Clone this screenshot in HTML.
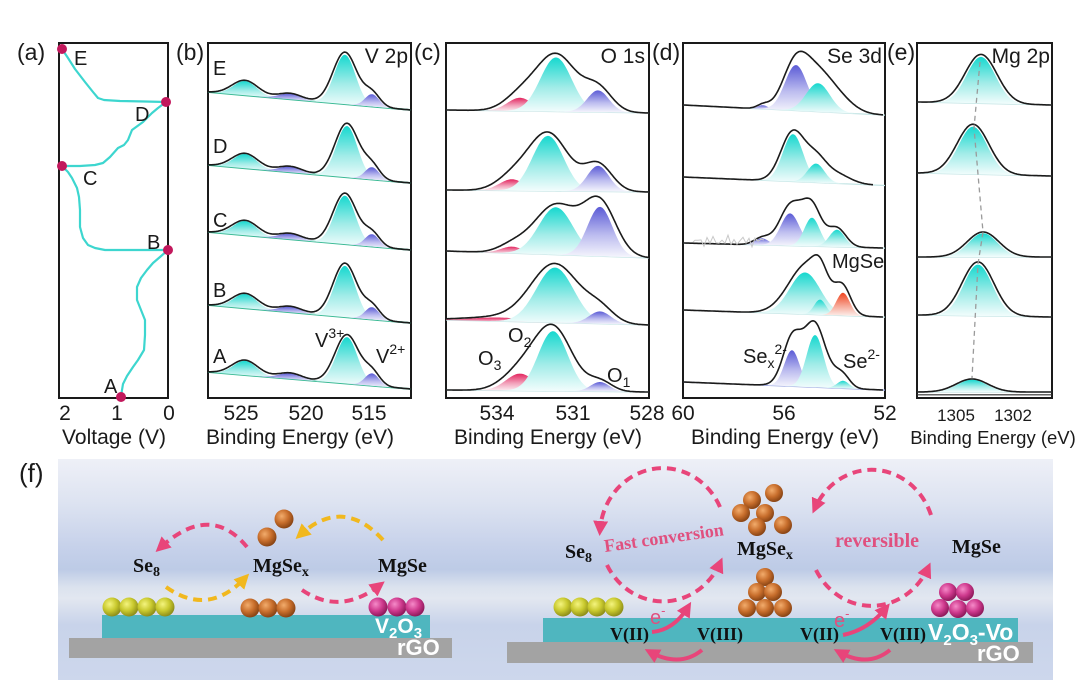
<!DOCTYPE html>
<html><head><meta charset="utf-8">
<style>
html,body{margin:0;padding:0;background:#fff;}
svg{display:block;}
.sans{font-family:"Liberation Sans",Arial,sans-serif;}
.serif{font-family:"Liberation Serif","Times New Roman",serif;font-weight:bold;}
</style></head>
<body>
<svg id="plots" width="1080" height="682" viewBox="0 0 1080 682" xmlns="http://www.w3.org/2000/svg">
<defs>
  <linearGradient id="gc" x1="0" y1="0" x2="0" y2="1">
    <stop offset="0" stop-color="#16d8cf"/><stop offset="0.55" stop-color="#a2ece8"/><stop offset="1" stop-color="#f4fdfd"/>
  </linearGradient>
  <linearGradient id="gp" x1="0" y1="0" x2="0" y2="1">
    <stop offset="0" stop-color="#5b5bd6"/><stop offset="0.55" stop-color="#bcbcef"/><stop offset="1" stop-color="#f7f7fd"/>
  </linearGradient>
  <linearGradient id="gk" x1="0" y1="0" x2="0" y2="1">
    <stop offset="0" stop-color="#e3255f"/><stop offset="0.55" stop-color="#f2a2bb"/><stop offset="1" stop-color="#fdf3f6"/>
  </linearGradient>
  <linearGradient id="gr" x1="0" y1="0" x2="0" y2="1">
    <stop offset="0" stop-color="#f0451f"/><stop offset="0.55" stop-color="#f6a796"/><stop offset="1" stop-color="#fdf1ee"/>
  </linearGradient>
  <linearGradient id="bg" x1="0" y1="0" x2="0" y2="1">
    <stop offset="0" stop-color="#eef0f7"/>
    <stop offset="0.2" stop-color="#dde3f1"/>
    <stop offset="0.4" stop-color="#c6d1ea"/>
    <stop offset="0.5" stop-color="#bdcbe6"/>
    <stop offset="0.58" stop-color="#dbe2ee"/>
    <stop offset="0.63" stop-color="#e2e7f0"/>
    <stop offset="0.75" stop-color="#c8d3ea"/>
    <stop offset="1" stop-color="#cdd7ec"/>
  </linearGradient>
  <radialGradient id="bY" cx="0.38" cy="0.35" r="0.65">
    <stop offset="0" stop-color="#f4f47e"/><stop offset="0.55" stop-color="#c9c92e"/><stop offset="1" stop-color="#8f8f1a"/>
  </radialGradient>
  <radialGradient id="bO" cx="0.38" cy="0.35" r="0.65">
    <stop offset="0" stop-color="#f2ac6c"/><stop offset="0.55" stop-color="#c86e2c"/><stop offset="1" stop-color="#8a4515"/>
  </radialGradient>
  <radialGradient id="bM" cx="0.38" cy="0.35" r="0.65">
    <stop offset="0" stop-color="#f58ac8"/><stop offset="0.55" stop-color="#cf3a8e"/><stop offset="1" stop-color="#8f1a5c"/>
  </radialGradient>
  <marker id="ap" viewBox="0 0 10 10" refX="6" refY="5" markerWidth="15" markerHeight="15" markerUnits="userSpaceOnUse" orient="auto">
    <path d="M0,0 L10,5 L0,10 z" fill="#e8457a"/>
  </marker>
  <marker id="ay" viewBox="0 0 10 10" refX="6" refY="5" markerWidth="15" markerHeight="15" markerUnits="userSpaceOnUse" orient="auto">
    <path d="M0,0 L10,5 L0,10 z" fill="#f1b81e"/>
  </marker>
</defs>

<!-- ===== Panel (a) ===== -->
<polyline fill="none" stroke="#3dd6cf" stroke-width="2.2" stroke-linejoin="round"
 points="62,49 68,58 75,69 85,82 93,92 98,98 104,100 120,101 145,101.5 166,102"/>
<polyline fill="none" stroke="#3dd6cf" stroke-width="2.2" stroke-linejoin="round"
 points="166,102 158,108 152,113 143,122 132,130 128,140 124,145 118,148 110,157 103,163 95,165 80,166 62,166"/>
<polyline fill="none" stroke="#3dd6cf" stroke-width="2.2" stroke-linejoin="round"
 points="62,166 68,172 72,178 77,188 79,197 80,210 80,227 83,238 88,245 95,248 105,250 130,250 168,250"/>
<polyline fill="none" stroke="#3dd6cf" stroke-width="2.2" stroke-linejoin="round"
 points="168,250 160,257 153,263 147,270 141,278 137,287 137,300 141,310 145,320 145,335 144,350 138,360 133,367 127,376 123,384 121,396"/>
<rect x="59" y="43" width="109" height="355" fill="none" stroke="#1a1a1a" stroke-width="2"/>
<g fill="#c2185c">
  <circle cx="62" cy="49" r="5"/><circle cx="166" cy="102" r="5"/><circle cx="62" cy="166" r="5"/>
  <circle cx="168" cy="250" r="5"/><circle cx="121" cy="397" r="5"/>
</g>
<g class="sans" font-size="20" fill="#1a1a1a">
  <text x="74" y="65">E</text><text x="135" y="121">D</text><text x="83" y="185">C</text>
  <text x="147" y="249">B</text><text x="104" y="393">A</text>
</g>

<!-- frames b-e -->
<rect x="208" y="43" width="203" height="355" fill="none" stroke="#1a1a1a" stroke-width="2"/>
<rect x="446" y="43" width="203" height="355" fill="none" stroke="#1a1a1a" stroke-width="2"/>
<rect x="683" y="43" width="202" height="355" fill="none" stroke="#1a1a1a" stroke-width="2"/>
<rect x="917" y="43" width="135" height="355" fill="none" stroke="#1a1a1a" stroke-width="2"/>

<g id="spectra"></g>

<!-- (e) dashed guide -->
<polyline fill="none" stroke="#9a9a9a" stroke-width="1.3" stroke-dasharray="5,4" points="980,62 974,128 983,232 978,264 972,378"/>

<!-- panel labels -->
<g class="sans" font-size="23" fill="#1a1a1a">
  <text x="17" y="60">(a)</text><text x="176" y="60">(b)</text><text x="414" y="60">(c)</text>
  <text x="652" y="60">(d)</text><text x="887" y="60">(e)</text>
  <text x="19" y="482" font-size="26">(f)</text>
</g>
<!-- titles -->
<g class="sans" font-size="21" fill="#1a1a1a" text-anchor="end">
  <text x="408" y="63">V 2p</text><text x="645" y="63">O 1s</text>
  <text x="882" y="63">Se 3d</text><text x="1050" y="63">Mg 2p</text>
</g>
<!-- (b) letters and annotations -->
<g class="sans" font-size="20" fill="#1a1a1a">
  <text x="213" y="75">E</text><text x="213" y="153">D</text><text x="213" y="227">C</text>
  <text x="213" y="297">B</text><text x="213" y="363">A</text>
  <text x="315" y="347">V<tspan font-size="14" dy="-9">3+</tspan></text>
  <text x="376" y="363">V<tspan font-size="14" dy="-9">2+</tspan></text>
  <text x="508" y="342">O<tspan font-size="14" dy="5">2</tspan></text>
  <text x="478" y="365">O<tspan font-size="14" dy="5">3</tspan></text>
  <text x="607" y="382">O<tspan font-size="14" dy="5">1</tspan></text>
  <text x="832" y="268">MgSe</text>
  <text x="743" y="363">Se<tspan font-size="14" dy="5">x</tspan><tspan font-size="14" dy="-14">2-</tspan></text>
  <text x="843" y="368">Se<tspan font-size="14" dy="-9">2-</tspan></text>
</g>
<!-- tick labels -->
<g class="sans" font-size="21" fill="#1a1a1a" text-anchor="middle">
  <text x="65" y="420">2</text><text x="117" y="420">1</text><text x="169" y="420">0</text>
  <text x="241" y="420">525</text><text x="306" y="420">520</text><text x="369" y="420">515</text>
  <text x="497" y="420">534</text><text x="573" y="420">531</text><text x="647" y="420">528</text>
  <text x="683" y="420">60</text><text x="784" y="420">56</text><text x="885" y="420">52</text>
  <text x="956" y="421" font-size="17">1305</text><text x="1013" y="421" font-size="17">1302</text>
</g>
<g class="sans" font-size="21" fill="#1a1a1a" text-anchor="middle">
  <text x="114" y="444">Voltage (V)</text>
  <text x="300" y="444">Binding Energy (eV)</text>
  <text x="548" y="444">Binding Energy (eV)</text>
  <text x="785" y="444">Binding Energy (eV)</text>
  <text x="993" y="444" font-size="18.5">Binding Energy (eV)</text>
</g>

<!-- ===== Panel (f) ===== -->
<rect x="58" y="459" width="995" height="221" fill="url(#bg)"/>

<!-- left schematic -->
<rect x="69" y="638" width="383" height="20" fill="#a3a3a3"/>
<rect x="102" y="615" width="328" height="23" fill="#4fb6bf"/>
<g fill="url(#bY)"><circle cx="112" cy="607" r="9.5"/><circle cx="129" cy="607" r="9.5"/><circle cx="147" cy="607" r="9.5"/><circle cx="165" cy="607" r="9.5"/></g>
<g fill="url(#bO)"><circle cx="250" cy="608" r="9.5"/><circle cx="268" cy="608" r="9.5"/><circle cx="286" cy="608" r="9.5"/><circle cx="284" cy="519" r="9.5"/><circle cx="267" cy="537" r="9.5"/></g>
<g fill="url(#bM)"><circle cx="378" cy="607" r="9.5"/><circle cx="397" cy="607" r="9.5"/><circle cx="415" cy="607" r="9.5"/></g>
<g class="serif" font-size="20" fill="#111">
  <text x="133" y="572">Se<tspan font-size="14" dy="4">8</tspan></text>
  <text x="253" y="572">MgSe<tspan font-size="14" dy="4">x</tspan></text>
  <text x="378" y="572">MgSe</text>
</g>
<g class="sans" font-weight="bold" fill="#fff">
  <text x="375" y="633" font-size="21">V<tspan font-size="15" dy="5">2</tspan><tspan dy="-5">O</tspan><tspan font-size="15" dy="5">3</tspan></text>
  <text x="397" y="655" font-size="22">rGO</text>
</g>
<g fill="none" stroke-width="4" stroke-dasharray="9,6">
  <path d="M247,547 Q210,502 160,548" stroke="#e8457a" marker-end="url(#ap)"/>
  <path d="M383,540 Q343,496 300,535" stroke="#f1b81e" marker-end="url(#ay)"/>
  <path d="M166,587 Q208,617 245,578" stroke="#f1b81e" marker-end="url(#ay)"/>
  <path d="M302,590 Q340,616 380,585" stroke="#e8457a" marker-end="url(#ap)"/>
</g>

<!-- right schematic -->
<rect x="507" y="642" width="526" height="21" fill="#a3a3a3"/>
<rect x="543" y="618" width="475" height="24" fill="#4fb6bf"/>
<g fill="url(#bY)"><circle cx="563" cy="607" r="9.5"/><circle cx="580" cy="607" r="9.5"/><circle cx="597" cy="607" r="9.5"/><circle cx="614" cy="607" r="9.5"/></g>
<g fill="url(#bO)">
  <circle cx="765" cy="577" r="9"/><circle cx="757" cy="592" r="9"/><circle cx="773" cy="592" r="9"/>
  <circle cx="747" cy="608" r="9"/><circle cx="765" cy="608" r="9"/><circle cx="783" cy="608" r="9"/>
  <circle cx="752" cy="500" r="9"/><circle cx="774" cy="493" r="9"/><circle cx="741" cy="513" r="9"/>
  <circle cx="765" cy="513" r="9"/><circle cx="757" cy="527" r="9"/><circle cx="783" cy="525" r="9"/>
</g>
<g fill="url(#bM)">
  <circle cx="948" cy="592" r="9"/><circle cx="965" cy="592" r="9"/>
  <circle cx="940" cy="608" r="9"/><circle cx="958" cy="609" r="9"/><circle cx="975" cy="608" r="9"/>
</g>
<g fill="none" stroke="#e8457a" stroke-width="4" stroke-dasharray="9,6">
  <path d="M720,507 A63,67 0 0 0 600,530" marker-end="url(#ap)"/>
  <path d="M607,565 A63,67 0 0 0 720,563" marker-end="url(#ap)"/>
  <path d="M931,515 A63,68 0 0 0 815,508" marker-end="url(#ap)"/>
  <path d="M816,570 A63,68 0 0 0 928,568" marker-end="url(#ap)"/>
</g>
<g fill="none" stroke="#e8457a" stroke-width="4">
  <path d="M652,632 Q674,630 688,607" marker-end="url(#ap)"/>
  <path d="M702,650 Q680,668 650,652" marker-end="url(#ap)"/>
  <path d="M843,635 Q868,630 886,608" marker-end="url(#ap)"/>
  <path d="M890,650 Q868,668 839,652" marker-end="url(#ap)"/>
</g>
<g class="serif" fill="#111">
  <text x="565" y="558" font-size="20">Se<tspan font-size="14" dy="4">8</tspan></text>
  <text x="737" y="555" font-size="20">MgSe<tspan font-size="14" dy="4">x</tspan></text>
  <text x="952" y="553" font-size="20">MgSe</text>
  <text x="610" y="640" font-size="18">V(II)</text>
  <text x="697" y="640" font-size="18">V(III)</text>
  <text x="800" y="640" font-size="18">V(II)</text>
  <text x="880" y="640" font-size="18">V(III)</text>
</g>
<g class="serif" fill="#e0507f">
  <text x="605" y="552" font-size="18" transform="rotate(-8 605 552)">Fast conversion</text>
  <text x="835" y="547" font-size="20">reversible</text>
</g>
<g class="sans" fill="#e0507f" font-size="20">
  <text x="650" y="624">e<tspan font-size="13" dy="-9">-</tspan></text>
  <text x="834" y="627">e<tspan font-size="13" dy="-9">-</tspan></text>
</g>
<g class="sans" font-weight="bold" fill="#fff">
  <text x="928" y="640" font-size="23">V<tspan font-size="15" dy="5">2</tspan><tspan dy="-5">O</tspan><tspan font-size="15" dy="5">3</tspan><tspan dy="-5">-Vo</tspan></text>
  <text x="977" y="661" font-size="22">rGO</text>
</g>
</svg>

<script>
(function(){
const NS='http://www.w3.org/2000/svg';
const grp=document.getElementById('spectra');
function el(tag,attrs){const e=document.createElementNS(NS,tag);for(const k in attrs)e.setAttribute(k,attrs[k]);grp.appendChild(e);return e;}
const G=(c,x)=>c.h*Math.exp(-((x-c.c)*(x-c.c))/(2*c.s*c.s));
function spec(x0,x1,yl,yr,comps,opt){
  opt=opt||{};
  const ff=opt.ff||0.85, fh=opt.fh||0.95;
  const base=x=>yl+(yr-yl)*(x-x0)/(x1-x0);
  const bx0=(opt.bx0!==undefined)?opt.bx0:x0, bx1=(opt.bx1!==undefined)?opt.bx1:x1;
  el('line',{x1:bx0,y1:base(bx0).toFixed(1),x2:bx1,y2:base(bx1).toFixed(1),stroke:opt.bc||'#c3e4e4','stroke-width':opt.bw||1.2});
  comps.forEach(c=>{
    if(!c.f) return;
    const fc={c:c.c,h:c.h*fh,s:c.s*ff};
    const a=Math.max(x0,fc.c-3.5*fc.s), b=Math.min(x1,fc.c+3.5*fc.s);
    let d='M'+a.toFixed(1)+','+base(a).toFixed(1);
    for(let x=a;x<=b;x+=1) d+='L'+x.toFixed(1)+','+(base(x)-G(fc,x)).toFixed(1);
    d+='L'+b.toFixed(1)+','+base(b).toFixed(1)+'Z';
    el('path',{d:d,fill:'url(#g'+c.f+')'});
  });
  let d='';
  for(let x=x0;x<=x1;x+=1){let s=0;comps.forEach(c=>{s+=G(c,x);});d+=(x===x0?'M':'L')+x+','+(base(x)-s).toFixed(1);}
  el('path',{d:d,fill:'none',stroke:'#1b1b1b','stroke-width':1.6,'stroke-linejoin':'round'});
}
// Panel (b)
const bOpt={bc:'#38b993',bw:1.8,ff:0.88};
const bSp=[[92,110,345,52],[165,183,347,54],[232,250,345,51],[305,323,345,54],[372,389,347,49]];
bSp.forEach(s=>{
  spec(208,411,s[0],s[1],[
    {c:245,h:15,s:13,f:'c'},{c:290,h:6,s:12,f:'p'},{c:s[2],h:s[3],s:12,f:'c'},{c:372,h:13,s:8,f:'p'}
  ],bOpt);
});
// Panel (c)
const cOpt={ff:0.78,fh:0.95};
spec(446,649,110,113,[{c:520,h:14,s:16,f:'k'},{c:556,h:57,s:20,f:'c'},{c:598,h:23,s:14,f:'p'}],cOpt);
spec(446,649,190,192,[{c:512,h:12,s:16,f:'k'},{c:548,h:58,s:20,f:'c'},{c:598,h:27,s:14,f:'p'}],cOpt);
spec(446,649,251,258,[{c:512,h:7,s:14,f:'k'},{c:556,h:50,s:22,f:'c'},{c:600,h:52,s:16,f:'p'}],cOpt);
spec(446,649,320,325,[{c:500,h:4,s:35,f:'k'},{c:555,h:58,s:24,f:'c'},{c:600,h:13,s:14,f:'p'}],cOpt);
spec(446,649,390,392,[{c:520,h:18,s:18,f:'k'},{c:553,h:63,s:19,f:'c'},{c:600,h:10,s:12,f:'p'}],cOpt);
// Panel (d)
spec(683,883,105,115,[{c:763,h:4,s:6,f:'p'},{c:796,h:48,s:13,f:'p'},{c:818,h:30,s:14,f:'c'},{c:838,h:14,s:15}],{bx1:885});
spec(683,873,177,185,[{c:793,h:50,s:12,f:'c'},{c:816,h:20,s:10,f:'c'},{c:835,h:10,s:14}],{bx1:885});
spec(683,883,243,248,[{c:762,h:7,s:8,f:'p'},{c:790,h:34,s:11,f:'p'},{c:812,h:30,s:9,f:'c'},{c:837,h:18,s:9,f:'c'},{c:805,h:12,s:15}],{bx1:885});
spec(683,883,310,317,[{c:805,h:44,s:18,f:'c'},{c:820,h:16,s:7,f:'c'},{c:843,h:24,s:8,f:'r'},{c:820,h:10,s:15}],{bx1:885});
spec(683,883,382,390,[{c:792,h:38,s:9,f:'p'},{c:815,h:55,s:10,f:'c'},{c:843,h:8,s:7,f:'c'},{c:800,h:14,s:14},{c:835,h:10,s:10}],{bx1:885,bc:'#9aa6e0'});
// noisy trace in (d) C
(function(){let d='M693,242';for(let x=695;x<=765;x+=3){d+='L'+x+','+(241-4*Math.sin(x*0.9)-2*Math.cos(x*1.7)).toFixed(1);}el('path',{d:d,fill:'none',stroke:'#c8c8c8','stroke-width':1});})();
// Panel (e)
const eOpt={ff:0.9};
spec(917,1052,102,105,[{c:981,h:49,s:16,f:'c'}],eOpt);
spec(917,1052,173,176,[{c:973,h:50,s:16,f:'c'}],eOpt);
spec(917,1052,257,257,[{c:983,h:25,s:16,f:'c'}],eOpt);
spec(917,1052,315,317,[{c:978,h:54,s:16,f:'c'}],eOpt);
spec(917,1052,392,392,[{c:972,h:13,s:16,f:'c'}],eOpt);
el('line',{x1:917,y1:394.8,x2:1052,y2:394.8,stroke:'#333','stroke-width':1.2});
})();
</script>
</body></html>
